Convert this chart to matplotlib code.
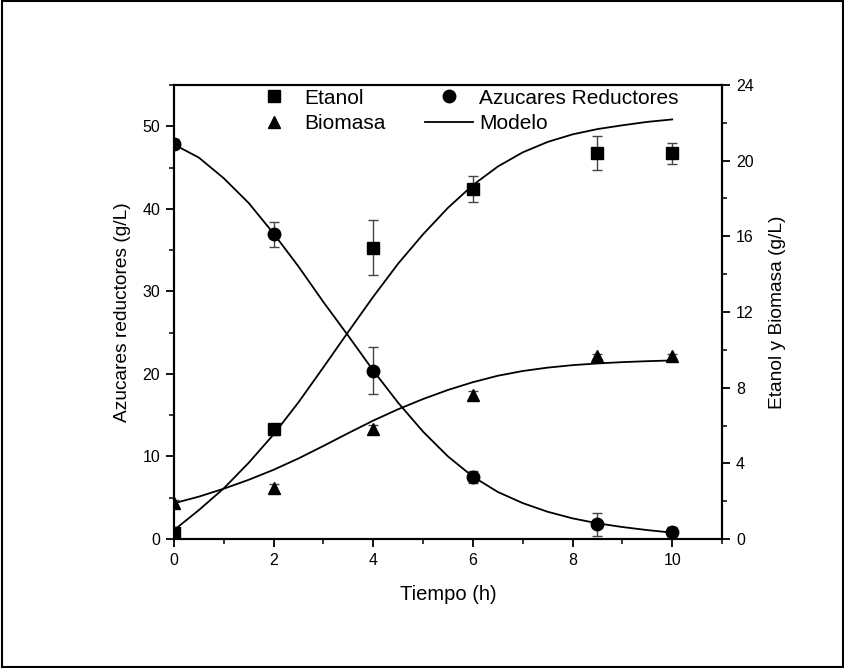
import numpy as np
import matplotlib
matplotlib.use('Agg')
import matplotlib.pyplot as plt
from matplotlib.lines import Line2D
from matplotlib.patches import Rectangle

plt.rcParams['font.family'] = ['Liberation Sans', 'DejaVu Sans']

# datos experimentales
t_exp = [0, 2, 4, 6, 8.5, 10]
azucar = [47.8, 36.9, 20.4, 7.5, 1.8, 0.8]
azucar_err = [0.6, 1.5, 2.8, 0.7, 1.4, 0.7]
etanol = [0.3, 5.8, 15.4, 18.5, 20.4, 20.4]
etanol_err = [0.35, 0.3, 1.45, 0.7, 0.9, 0.55]
biomasa = [1.9, 2.7, 5.8, 7.6, 9.65, 9.65]
biomasa_err = [0.15, 0.2, 0.25, 0.2, 0.15, 0.15]

# curvas del modelo
t_mod = [0, 0.5, 1, 1.5, 2, 2.5, 3, 3.5, 4, 4.5, 5, 5.5, 6, 6.5, 7, 7.5,
         8, 8.5, 9, 9.5, 10]
azucar_mod = [47.8, 46.2, 43.7, 40.7, 37.0, 33.0, 28.7, 24.6, 20.4, 16.5,
              13.0, 10.0, 7.55, 5.7, 4.35, 3.3, 2.5, 1.9, 1.45, 1.08, 0.77]
etanol_mod = [0.47, 1.53, 2.68, 4.03, 5.53, 7.23, 9.08, 10.96, 12.81, 14.56,
              16.11, 17.51, 18.71, 19.69, 20.44, 20.99, 21.39, 21.67, 21.87,
              22.05, 22.18]
biomasa_mod = [1.89, 2.24, 2.66, 3.13, 3.66, 4.26, 4.92, 5.60, 6.26, 6.86,
               7.40, 7.88, 8.29, 8.63, 8.88, 9.06, 9.19, 9.28, 9.35, 9.40, 9.44]

fig = plt.figure(figsize=(8.45, 6.68), dpi=100)
ax1 = fig.add_axes([174/845, 129/668, 548/845, 454/668])
ax2 = ax1.twinx()

ebar = dict(ecolor='#444444', elinewidth=1.0, capsize=3.5, capthick=1.0,
            linestyle='none', color='black')

ax1.plot(t_mod, azucar_mod, color='black', lw=1.3)
ax1.errorbar(t_exp, azucar, yerr=azucar_err, marker='o', ms=9, **ebar)

ax2.plot(t_mod, etanol_mod, color='black', lw=1.3)
ax2.plot(t_mod, biomasa_mod, color='black', lw=1.3)
ax2.errorbar(t_exp, etanol, yerr=etanol_err, marker='s', ms=8, **ebar)
ax2.errorbar(t_exp, biomasa, yerr=biomasa_err, marker='^', ms=9, **ebar)

ax1.set_xlim(0, 11)
ax1.set_ylim(0, 55)
ax2.set_ylim(0, 24)
ax1.set_xticks(np.arange(0, 11, 2))
ax1.set_xticks(np.arange(1, 12, 2), minor=True)
ax1.set_yticks(np.arange(0, 51, 10))
ax1.set_yticks(np.arange(5, 56, 10), minor=True)
ax2.set_yticks(np.arange(0, 25, 4))
ax2.set_yticks(np.arange(2, 24, 4), minor=True)

for ax in (ax1, ax2):
    ax.tick_params(which='major', direction='out', length=6, width=1.3,
                   labelsize=11.5, pad=4)
    ax.tick_params(which='minor', direction='out', length=3.5, width=1.1)
    for s in ax.spines.values():
        s.set_linewidth(1.5)

ax1.set_xlabel('Tiempo (h)', fontsize=14.5, labelpad=12)
ax1.set_ylabel('Azucares reductores (g/L)', fontsize=13.8, labelpad=8)
ax2.set_ylabel('Etanol y Biomasa (g/L)', fontsize=13.8, labelpad=11)

handles = [
    Line2D([], [], marker='s', color='black', ls='none', ms=8),
    Line2D([], [], marker='^', color='black', ls='none', ms=9),
    Line2D([], [], marker='o', color='black', ls='none', ms=9),
    Line2D([], [], color='black', lw=1.3),
]
labels = ['Etanol', 'Biomasa', 'Azucares Reductores', 'Modelo']
ax2.legend(handles, labels, ncol=2, frameon=False, fontsize=15,
           loc='upper left', bbox_to_anchor=(0.139, 0.992),
           borderaxespad=0, borderpad=0, handlelength=2.3,
           handletextpad=0.3, columnspacing=1.9, labelspacing=0.3)

# marco exterior
fig.patches.append(Rectangle((0.002, 0.002), 0.996, 0.996, fill=False,
                             lw=1.5, edgecolor='black',
                             transform=fig.transFigure, figure=fig))

fig.savefig('out.png', dpi=100)
